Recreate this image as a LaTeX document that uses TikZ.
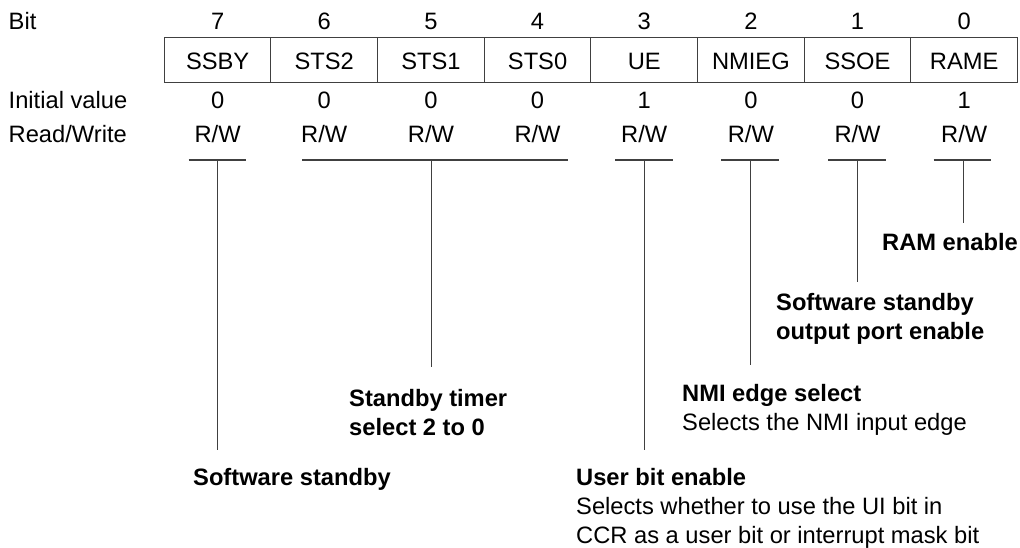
\documentclass[tikz,border=0pt]{standalone}
\usepackage{fontspec}
\setmainfont{Liberation Sans}
\newcommand{\fsz}{\fontsize{23.7}{29}\selectfont}
\begin{document}
\begin{tikzpicture}[x=1pt,y=-1pt,
  every node/.style={inner sep=0pt, font=\fsz},
  cell/.style={draw=black!75, line width=1pt, minimum width=106.65pt, minimum height=45pt, text height=19pt, text depth=0pt},
  val/.style={anchor=base},
  lbl/.style={anchor=base west},
  rule/.style={draw=black!75, line width=1.1pt}]
\useasboundingbox (0,0) rectangle (1020,548);
% row labels
\node[lbl] (hbit) at (8.5,29.3) {Bit};
\node[lbl] (hinit) at (8.5,109) {Initial value};
\node[lbl] (hrw) at (8.5,143) {Read/Write};
% columns
\foreach \i/\b/\n/\v in {0/7/SSBY/0,1/6/STS2/0,2/5/STS1/0,3/4/STS0/0,4/3/UE/1,5/2/NMIEG/0,6/1/SSOE/0,7/0/RAME/1}{
  \pgfmathsetmacro{\cx}{164.3+106.65*(\i+0.5)}
  \node[val] (bit\b) at (\cx,29.3) {\b};
  \node[cell] (reg\b) at (\cx,60.5) {\n};
  \node[val] (init\b) at (\cx,109) {\v};
  \node[val] (rw\b) at (\cx,143) {R/W};
}
% underline coordinates
\coordinate (u7a) at (188.5,160); \coordinate (u7b) at (246,160); \coordinate (u7) at (217.6,160);
\coordinate (usa) at (302,160); \coordinate (usb) at (567.5,160); \coordinate (us) at (431.5,160);
\coordinate (u3a) at (615,160); \coordinate (u3b) at (672.5,160); \coordinate (u3) at (644.2,160);
\coordinate (u2a) at (721,160); \coordinate (u2b) at (778.5,160); \coordinate (u2) at (750.4,160);
\coordinate (u1a) at (828,160); \coordinate (u1b) at (885.5,160); \coordinate (u1) at (857.8,160);
\coordinate (u0a) at (933.5,160); \coordinate (u0b) at (990.5,160); \coordinate (u0) at (963.5,160);
\draw[rule] (u7a) -- (u7b);
\draw[rule] (usa) -- (usb);
\draw[rule] (u3a) -- (u3b);
\draw[rule] (u2a) -- (u2b);
\draw[rule] (u1a) -- (u1b);
\draw[rule] (u0a) -- (u0b);
% line ends
\coordinate (e7) at (217.6,450);
\coordinate (es) at (431.5,367);
\coordinate (e3) at (644.2,450);
\coordinate (e2) at (750.4,365);
\coordinate (e1) at (857.8,282);
\coordinate (e0) at (963.5,223);
\draw[rule] (u7) -- (e7);
\draw[rule] (us) -- (es);
\draw[rule] (u3) -- (e3);
\draw[rule] (u2) -- (e2);
\draw[rule] (u1) -- (e1);
\draw[rule] (u0) -- (e0);
% descriptions
\node[lbl] (d0) at (882,251) {\bfseries RAM enable};
\node[lbl] (d1) at (776,310) {\begin{tabular}[t]{@{}l@{}}\bfseries Software standby\\ \bfseries output port enable\end{tabular}};
\node[lbl] (d2) at (682,401) {\begin{tabular}[t]{@{}l@{}}\bfseries NMI edge select\\ Selects the NMI input edge\end{tabular}};
\node[lbl] (d3) at (576,485) {\begin{tabular}[t]{@{}l@{}}\bfseries User bit enable\\ Selects whether to use the UI bit in\\ CCR as a user bit or interrupt mask bit\end{tabular}};
\node[lbl] (ds) at (349,406) {\begin{tabular}[t]{@{}l@{}}\bfseries Standby timer\\ \bfseries select 2 to 0\end{tabular}};
\node[lbl] (d7) at (193,485) {\bfseries Software standby};
\end{tikzpicture}
\end{document}
